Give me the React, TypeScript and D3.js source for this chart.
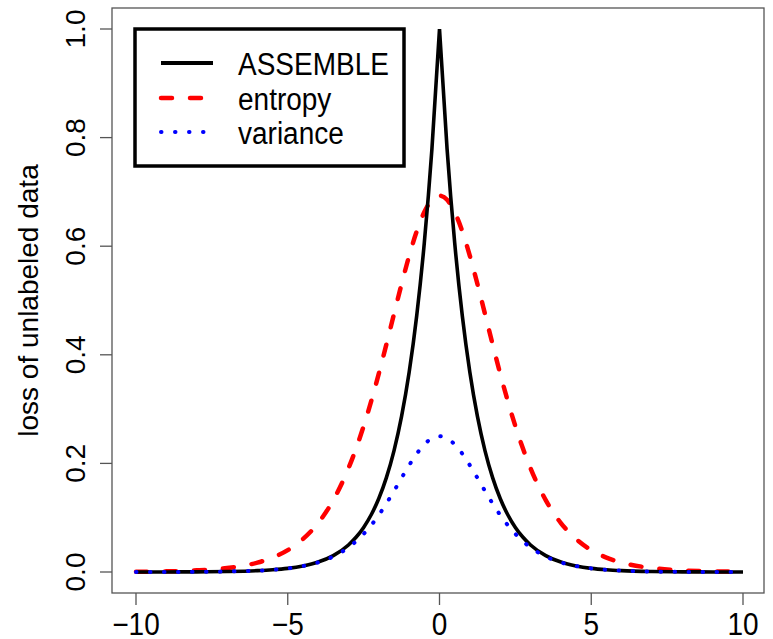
import React from "react";
import * as d3 from "d3";

// x positions (right half, mirrored for left) and read-off values
const halfX = [0, 0.25, 0.5, 0.75, 1, 1.25, 1.5, 1.75, 2, 2.25, 2.5, 2.75, 3, 3.5, 4, 4.5, 5, 5.5, 6, 7, 8, 9, 10];
const assembleHalf = [1, 0.7788, 0.6065, 0.4724, 0.3679, 0.2865, 0.2231, 0.1738, 0.1353, 0.1054, 0.0821, 0.0639, 0.0498, 0.0302, 0.0183, 0.0111, 0.0067, 0.0041, 0.0025, 0.0009, 0.0003, 0.0001, 0.00005];
const entropyHalf = [0.6931, 0.6854, 0.6629, 0.6275, 0.5822, 0.5303, 0.475, 0.4192, 0.3653, 0.3146, 0.2686, 0.2273, 0.1909, 0.1324, 0.0901, 0.0607, 0.0402, 0.0265, 0.0173, 0.0073, 0.003, 0.0012, 0.0005];
const varianceHalf = [0.25, 0.2461, 0.235, 0.2179, 0.1966, 0.1731, 0.1491, 0.1261, 0.105, 0.0862, 0.0701, 0.0565, 0.0452, 0.0285, 0.0177, 0.0109, 0.0066, 0.0041, 0.0025, 0.0009, 0.0003, 0.0001, 0.00005];

const xTicks = [-10, -5, 0, 5, 10];
const yTicks = [0, 0.2, 0.4, 0.6, 0.8, 1.0];
const legendLabels = ["ASSEMBLE", "entropy", "variance"];
const yLabel = "loss of unlabeled data";

const W = 773, H = 639;
const L = 112, R = 764, T = 8, B = 593;
const FONT = "'Liberation Sans', Arial, Helvetica, sans-serif";
const SY = 1.1; // vertical stretch of horizontal glyphs seen in the reference

type P = [number, number];
function full(vals: number[]): P[] {
  const left: P[] = [];
  for (let i = halfX.length - 1; i >= 1; i--) left.push([-halfX[i], vals[i]]);
  const right: P[] = halfX.map((x, i) => [x, vals[i]] as P);
  return left.concat(right);
}
function leftHalf(vals: number[]): P[] {
  const out: P[] = [];
  for (let i = halfX.length - 1; i >= 0; i--) out.push([-halfX[i], vals[i]]);
  return out;
}
function rightHalf(vals: number[]): P[] {
  return halfX.map((x, i) => [x, vals[i]] as P);
}

export default function App() {
  const x = d3.scaleLinear().domain([-10, 10]).range([136, 743]);
  const y = d3.scaleLinear().domain([0, 1]).range([572, 29]);
  const line = d3
    .line<P>()
    .x((d) => x(d[0]))
    .y((d) => y(d[1]))
    .curve(d3.curveMonotoneX);

  const assembleD = (line(leftHalf(assembleHalf)) || "") + (line(rightHalf(assembleHalf)) || "");
  const entropyD = line(full(entropyHalf)) || "";
  const varianceD = line(full(varianceHalf)) || "";

  const legendRows = [
    { label: legendLabels[0], stroke: "#000", dash: undefined as string | undefined, width: 4, cap: "butt" },
    { label: legendLabels[1], stroke: "#ff0000", dash: "11 18", width: 4.5, cap: "round" },
    { label: legendLabels[2], stroke: "#0000ff", dash: "0.5 13.5", width: 4, cap: "round" },
  ];
  const rowY = [63, 98, 132];

  return (
    <svg width={W} height={H} style={{ position: "absolute", left: 0, top: 0, background: "#fff" }} fontFamily={FONT}>
      <rect x={0} y={0} width={W} height={H} fill="#fff" />
      {/* curves */}
      <path d={entropyD} fill="none" stroke="#ff0000" strokeWidth={4.5} strokeDasharray="11 18" strokeLinecap="round" />
      <path d={assembleD} fill="none" stroke="#000" strokeWidth={3.6} strokeLinejoin="miter" />
      <path d={varianceD} fill="none" stroke="#0000ff" strokeWidth={4} strokeDasharray="0.5 13.5" strokeLinecap="round" />

      {/* box */}
      <rect x={L} y={T} width={R - L} height={B - T} fill="none" stroke="#555" strokeWidth={1.3} />

      {/* x axis */}
      {xTicks.map((t) => (
        <g key={"x" + t}>
          <line x1={x(t)} x2={x(t)} y1={B} y2={B + 12} stroke="#555" strokeWidth={1.3} />
          <text
            transform={`translate(${x(t)},635) scale(1,${SY})`}
            textAnchor="middle"
            fontSize={28}
            fill="#000"
          >
            {t < 0 ? "\u2212" + Math.abs(t) : String(t)}
          </text>
        </g>
      ))}

      {/* y axis */}
      {yTicks.map((t) => (
        <g key={"y" + t}>
          <line x1={L - 12} x2={L} y1={y(t)} y2={y(t)} stroke="#555" strokeWidth={1.3} />
          <text
            transform={`translate(85,${y(t)}) rotate(-90)`}
            textAnchor="middle"
            fontSize={28}
            fill="#000"
          >
            {t.toFixed(1)}
          </text>
        </g>
      ))}
      <text
        transform={`translate(38,${(T + B) / 2}) rotate(-90)`}
        textAnchor="middle"
        fontSize={28}
        fill="#000"
      >
        {yLabel}
      </text>

      {/* legend */}
      <rect x={135} y={29} width={269} height={137} fill="#fff" stroke="#000" strokeWidth={3.5} />
      {legendRows.map((r, i) => (
        <g key={r.label}>
          <line
            x1={161}
            x2={213}
            y1={rowY[i]}
            y2={rowY[i]}
            stroke={r.stroke}
            strokeWidth={r.width}
            strokeDasharray={r.dash}
            strokeLinecap={r.cap as any}
          />
          <text
            transform={`translate(238,${rowY[i] + 11.5}) scale(1,${SY})`}
            fontSize={28}
            fill="#000"
          >
            {r.label}
          </text>
        </g>
      ))}
    </svg>
  );
}
